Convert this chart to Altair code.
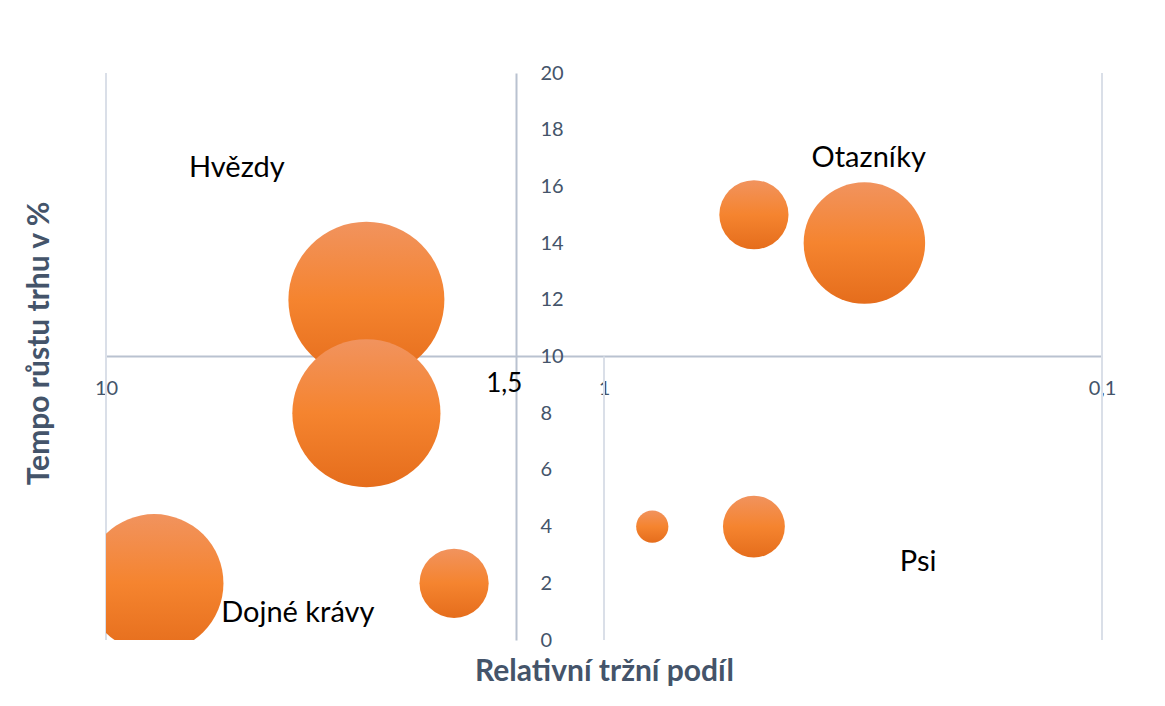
import altair as alt
import pandas as pd

# --- data ---
share = [3, 3, 8, 2, 0.8, 0.5, 0.5, 0.3]          # relative market share (log axis, reversed)
growth = [12, 8, 2, 2, 4, 4, 15, 14]              # market growth rate in %
sales = [61, 55, 48, 12, 2.6, 9.6, 12, 37]        # bubble size (sales volume)

quad_names = ["Hvězdy", "Otazníky", "Dojné krávy", "Psi"]
quad_x = [5.46, 0.294, 4.12, 0.234]
quad_y = [16.65, 17.0, 0.95, 2.75]

grid_x = [10, 1, 0.1]
grid_y0 = [0, 0, 0]
grid_y1 = [20, 10, 20]

x_ticks = [10, 1, 0.1]
y_ticks = list(range(0, 21, 2))
cross_label = ["1,5"]
cross_x = [1.5]
cross_y = [10]

FONT = "Lato"
TEXT2 = "#44546A"
AXIS_COL = "#B9C2D0"
GRID_COL = "#DADFE8"

bubbles = pd.DataFrame({"x": share, "y": growth, "s": sales, "i": range(len(share))})
quads = pd.DataFrame({"x": quad_x, "y": quad_y, "t": quad_names})
grid = pd.DataFrame({"x": grid_x, "y": grid_y0, "y1": grid_y1})
cross = pd.DataFrame({"x": cross_x, "y": cross_y, "t": cross_label})

xscale = alt.Scale(type="log", domain=[0.1, 10], reverse=True, nice=False)
yscale = alt.Scale(domain=[0, 20], nice=False, zero=False)

xaxis = alt.Axis(
    orient="bottom", offset=-284, values=x_ticks, ticks=False, tickSize=0,
    labelPadding=22, labelFont=FONT, labelFontSize=20, labelColor=TEXT2,
    labelExpr="replace(toString(datum.value), '.', ',')",
    labelFlush=False, labelOverlap=False,
    domainColor=AXIS_COL, domainWidth=2, grid=False,
    title="Relativní tržní podíl", titleFont=FONT, titleFontSize=30,
    titleFontWeight="bold", titleColor=TEXT2,
    titleX=498, titleY=315, titleAlign="center", titleBaseline="middle",
)
yaxis = alt.Axis(
    orient="right", offset=-586, values=y_ticks, ticks=False, tickSize=0,
    labelPadding=24, labelFont=FONT, labelFontSize=20, labelColor=TEXT2,
    labelAlign="left", labelBaseline="middle", labelFlush=False, labelOverlap=False,
    domainColor=AXIS_COL, domainWidth=2, grid=False,
    title="Tempo růstu trhu v %", titleFont=FONT, titleFontSize=30,
    titleFontWeight="bold", titleColor=TEXT2, titleAngle=270,
    titleX=-477, titleY=270, titleAlign="center", titleBaseline="middle",
)

grad = alt.Gradient(
    gradient="linear", x1=0, x2=0, y1=0, y2=1,
    stops=[
        alt.GradientStop(color="#F1935E", offset=0),
        alt.GradientStop(color="#F5842F", offset=0.5),
        alt.GradientStop(color="#E56D1C", offset=1),
    ],
)

rules = alt.Chart(grid).mark_rule(color=GRID_COL, strokeWidth=2).encode(
    x=alt.X("x:Q", scale=xscale, axis=xaxis),
    y=alt.Y("y:Q", scale=yscale, axis=yaxis),
    y2="y1:Q",
)

# Vega circle: radius = sqrt(size)/2  ->  largest bubble radius ~78 px
circles = alt.Chart(bubbles).mark_circle(fill=grad, opacity=1, clip=True).encode(
    x=alt.X("x:Q", scale=xscale),
    y=alt.Y("y:Q", scale=yscale),
    size=alt.Size("s:Q", scale=alt.Scale(domain=[0, 61], range=[0, 24336]), legend=None),
    order=alt.Order("i:Q"),
)

qtext = alt.Chart(quads).mark_text(
    font=FONT, fontSize=29, color="black", align="center", baseline="middle"
).encode(
    x=alt.X("x:Q", scale=xscale),
    y=alt.Y("y:Q", scale=yscale),
    text="t:N",
)

ctext = alt.Chart(cross).mark_text(
    font=FONT, fontSize=26, color="black", align="right", baseline="middle", dx=6, dy=27
).encode(
    x=alt.X("x:Q", scale=xscale),
    y=alt.Y("y:Q", scale=yscale),
    text="t:N",
)

chart = alt.layer(rules, circles, qtext, ctext).properties(
    width=996, height=567,
    autosize=alt.AutoSizeParams(type="none"),
    padding={"left": 98, "top": 65, "right": 55, "bottom": 58},
    background="white",
).configure_view(stroke=None)

chart.save("out.html", embed_options={"renderer": "svg", "actions": False})
